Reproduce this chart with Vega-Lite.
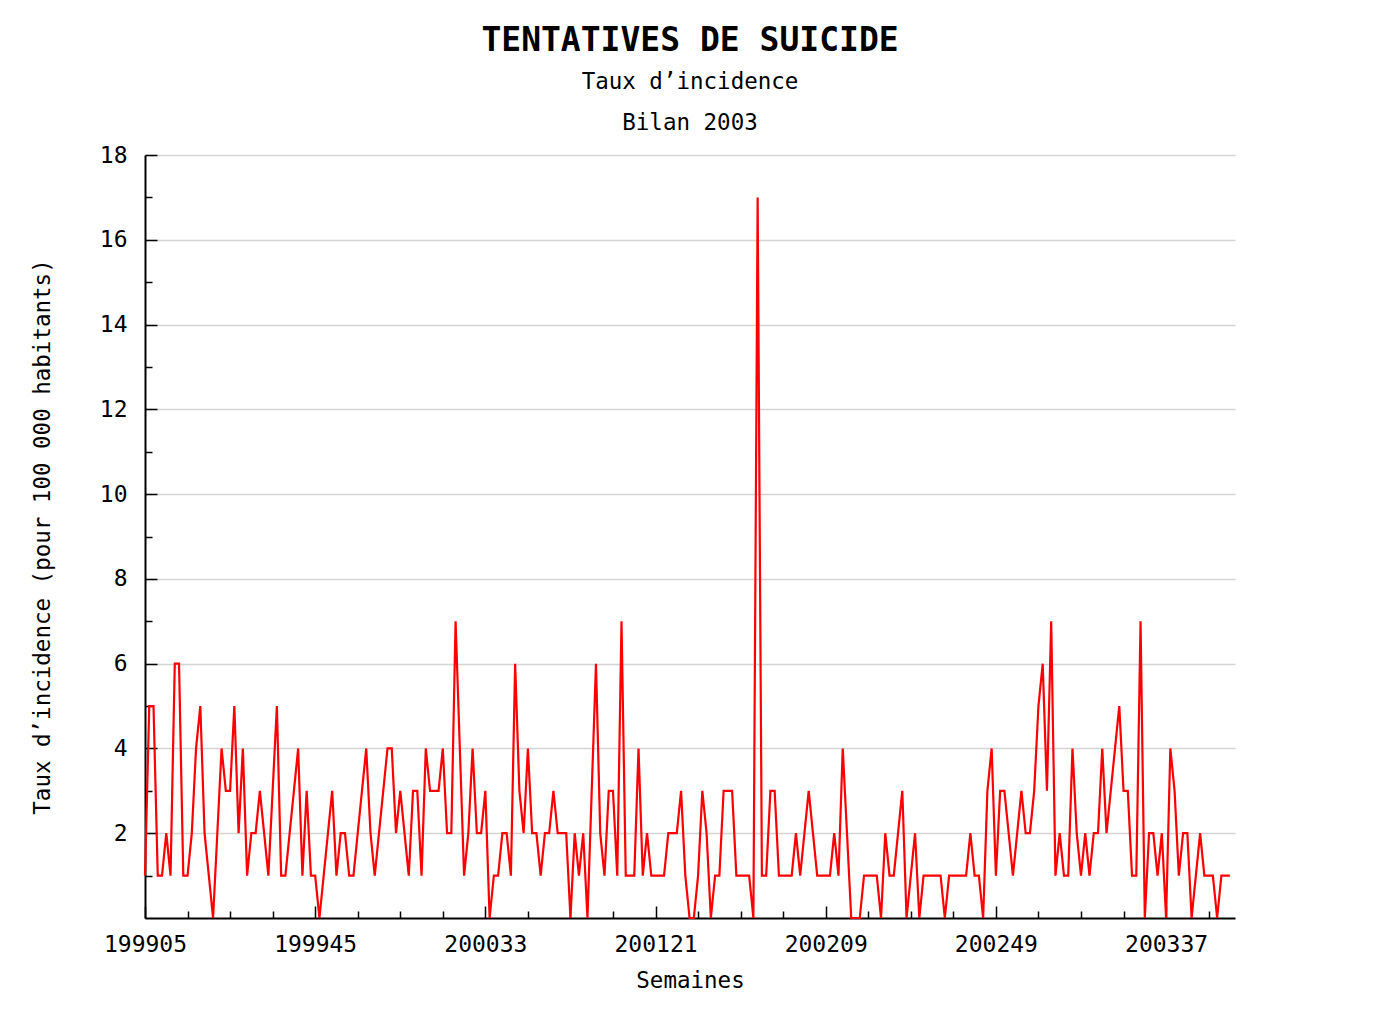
{
"$schema": "https://vega.github.io/schema/vega-lite/v6.json",
"width": 1090, "height": 763,
"autosize": "none",
"padding": {"left": 145, "top": 155, "right": 140, "bottom": 105},
"background": "white",
"title": {"text": "TENTATIVES DE SUICIDE", "subtitle": ["Taux d’incidence", "Bilan 2003"], "font": "DejaVu Sans Mono", "fontSize": 33, "fontWeight": "bold", "color": "black", "subtitleFont": "DejaVu Sans Mono", "subtitleFontSize": 22.5, "subtitleColor": "black", "subtitleLineHeight": 41, "subtitlePadding": 13, "anchor": "middle", "offset": 10},
"config": {
  "view": {"stroke": null},
  "axis": {"labelFont": "DejaVu Sans Mono", "labelFontSize": 23, "labelColor": "black", "titleFont": "DejaVu Sans Mono", "titleFontSize": 22.5, "titleFontWeight": "normal", "titleColor": "black", "domainColor": "black", "domainWidth": 2, "tickColor": "black", "tickWidth": 1.5, "labelOverlap": false}
},
"data": {"values": [
{"semaine":"199905","taux":1},{"semaine":"199906","taux":5},{"semaine":"199907","taux":5},{"semaine":"199908","taux":1},{"semaine":"199909","taux":1},{"semaine":"199910","taux":2},{"semaine":"199911","taux":1},{"semaine":"199912","taux":6},{"semaine":"199913","taux":6},{"semaine":"199914","taux":1},
{"semaine":"199915","taux":1},{"semaine":"199916","taux":2},{"semaine":"199917","taux":4},{"semaine":"199918","taux":5},{"semaine":"199919","taux":2},{"semaine":"199920","taux":1},{"semaine":"199921","taux":0},{"semaine":"199922","taux":2},{"semaine":"199923","taux":4},{"semaine":"199924","taux":3},
{"semaine":"199925","taux":3},{"semaine":"199926","taux":5},{"semaine":"199927","taux":2},{"semaine":"199928","taux":4},{"semaine":"199929","taux":1},{"semaine":"199930","taux":2},{"semaine":"199931","taux":2},{"semaine":"199932","taux":3},{"semaine":"199933","taux":2},{"semaine":"199934","taux":1},
{"semaine":"199935","taux":3},{"semaine":"199936","taux":5},{"semaine":"199937","taux":1},{"semaine":"199938","taux":1},{"semaine":"199939","taux":2},{"semaine":"199940","taux":3},{"semaine":"199941","taux":4},{"semaine":"199942","taux":1},{"semaine":"199943","taux":3},{"semaine":"199944","taux":1},
{"semaine":"199945","taux":1},{"semaine":"199946","taux":0},{"semaine":"199947","taux":1},{"semaine":"199948","taux":2},{"semaine":"199949","taux":3},{"semaine":"199950","taux":1},{"semaine":"199951","taux":2},{"semaine":"199952","taux":2},
{"semaine":"200001","taux":1},{"semaine":"200002","taux":1},{"semaine":"200003","taux":2},{"semaine":"200004","taux":3},{"semaine":"200005","taux":4},{"semaine":"200006","taux":2},{"semaine":"200007","taux":1},{"semaine":"200008","taux":2},{"semaine":"200009","taux":3},{"semaine":"200010","taux":4},
{"semaine":"200011","taux":4},{"semaine":"200012","taux":2},{"semaine":"200013","taux":3},{"semaine":"200014","taux":2},{"semaine":"200015","taux":1},{"semaine":"200016","taux":3},{"semaine":"200017","taux":3},{"semaine":"200018","taux":1},{"semaine":"200019","taux":4},{"semaine":"200020","taux":3},
{"semaine":"200021","taux":3},{"semaine":"200022","taux":3},{"semaine":"200023","taux":4},{"semaine":"200024","taux":2},{"semaine":"200025","taux":2},{"semaine":"200026","taux":7},{"semaine":"200027","taux":4},{"semaine":"200028","taux":1},{"semaine":"200029","taux":2},{"semaine":"200030","taux":4},
{"semaine":"200031","taux":2},{"semaine":"200032","taux":2},{"semaine":"200033","taux":3},{"semaine":"200034","taux":0},{"semaine":"200035","taux":1},{"semaine":"200036","taux":1},{"semaine":"200037","taux":2},{"semaine":"200038","taux":2},{"semaine":"200039","taux":1},{"semaine":"200040","taux":6},
{"semaine":"200041","taux":3},{"semaine":"200042","taux":2},{"semaine":"200043","taux":4},{"semaine":"200044","taux":2},{"semaine":"200045","taux":2},{"semaine":"200046","taux":1},{"semaine":"200047","taux":2},{"semaine":"200048","taux":2},{"semaine":"200049","taux":3},{"semaine":"200050","taux":2},
{"semaine":"200051","taux":2},{"semaine":"200052","taux":2},
{"semaine":"200101","taux":0},{"semaine":"200102","taux":2},{"semaine":"200103","taux":1},{"semaine":"200104","taux":2},{"semaine":"200105","taux":0},{"semaine":"200106","taux":3},{"semaine":"200107","taux":6},{"semaine":"200108","taux":2},{"semaine":"200109","taux":1},{"semaine":"200110","taux":3},
{"semaine":"200111","taux":3},{"semaine":"200112","taux":1},{"semaine":"200113","taux":7},{"semaine":"200114","taux":1},{"semaine":"200115","taux":1},{"semaine":"200116","taux":1},{"semaine":"200117","taux":4},{"semaine":"200118","taux":1},{"semaine":"200119","taux":2},{"semaine":"200120","taux":1},
{"semaine":"200121","taux":1},{"semaine":"200122","taux":1},{"semaine":"200123","taux":1},{"semaine":"200124","taux":2},{"semaine":"200125","taux":2},{"semaine":"200126","taux":2},{"semaine":"200127","taux":3},{"semaine":"200128","taux":1},{"semaine":"200129","taux":0},{"semaine":"200130","taux":0},
{"semaine":"200131","taux":1},{"semaine":"200132","taux":3},{"semaine":"200133","taux":2},{"semaine":"200134","taux":0},{"semaine":"200135","taux":1},{"semaine":"200136","taux":1},{"semaine":"200137","taux":3},{"semaine":"200138","taux":3},{"semaine":"200139","taux":3},{"semaine":"200140","taux":1},
{"semaine":"200141","taux":1},{"semaine":"200142","taux":1},{"semaine":"200143","taux":1},{"semaine":"200144","taux":0},{"semaine":"200145","taux":17},{"semaine":"200146","taux":1},{"semaine":"200147","taux":1},{"semaine":"200148","taux":3},{"semaine":"200149","taux":3},{"semaine":"200150","taux":1},
{"semaine":"200151","taux":1},{"semaine":"200152","taux":1},
{"semaine":"200201","taux":1},{"semaine":"200202","taux":2},{"semaine":"200203","taux":1},{"semaine":"200204","taux":2},{"semaine":"200205","taux":3},{"semaine":"200206","taux":2},{"semaine":"200207","taux":1},{"semaine":"200208","taux":1},{"semaine":"200209","taux":1},{"semaine":"200210","taux":1},
{"semaine":"200211","taux":2},{"semaine":"200212","taux":1},{"semaine":"200213","taux":4},{"semaine":"200214","taux":2},{"semaine":"200215","taux":0},{"semaine":"200216","taux":0},{"semaine":"200217","taux":0},{"semaine":"200218","taux":1},{"semaine":"200219","taux":1},{"semaine":"200220","taux":1},
{"semaine":"200221","taux":1},{"semaine":"200222","taux":0},{"semaine":"200223","taux":2},{"semaine":"200224","taux":1},{"semaine":"200225","taux":1},{"semaine":"200226","taux":2},{"semaine":"200227","taux":3},{"semaine":"200228","taux":0},{"semaine":"200229","taux":1},{"semaine":"200230","taux":2},
{"semaine":"200231","taux":0},{"semaine":"200232","taux":1},{"semaine":"200233","taux":1},{"semaine":"200234","taux":1},{"semaine":"200235","taux":1},{"semaine":"200236","taux":1},{"semaine":"200237","taux":0},{"semaine":"200238","taux":1},{"semaine":"200239","taux":1},{"semaine":"200240","taux":1},
{"semaine":"200241","taux":1},{"semaine":"200242","taux":1},{"semaine":"200243","taux":2},{"semaine":"200244","taux":1},{"semaine":"200245","taux":1},{"semaine":"200246","taux":0},{"semaine":"200247","taux":3},{"semaine":"200248","taux":4},{"semaine":"200249","taux":1},{"semaine":"200250","taux":3},
{"semaine":"200251","taux":3},{"semaine":"200252","taux":2},
{"semaine":"200301","taux":1},{"semaine":"200302","taux":2},{"semaine":"200303","taux":3},{"semaine":"200304","taux":2},{"semaine":"200305","taux":2},{"semaine":"200306","taux":3},{"semaine":"200307","taux":5},{"semaine":"200308","taux":6},{"semaine":"200309","taux":3},{"semaine":"200310","taux":7},
{"semaine":"200311","taux":1},{"semaine":"200312","taux":2},{"semaine":"200313","taux":1},{"semaine":"200314","taux":1},{"semaine":"200315","taux":4},{"semaine":"200316","taux":2},{"semaine":"200317","taux":1},{"semaine":"200318","taux":2},{"semaine":"200319","taux":1},{"semaine":"200320","taux":2},
{"semaine":"200321","taux":2},{"semaine":"200322","taux":4},{"semaine":"200323","taux":2},{"semaine":"200324","taux":3},{"semaine":"200325","taux":4},{"semaine":"200326","taux":5},{"semaine":"200327","taux":3},{"semaine":"200328","taux":3},{"semaine":"200329","taux":1},{"semaine":"200330","taux":1},
{"semaine":"200331","taux":7},{"semaine":"200332","taux":0},{"semaine":"200333","taux":2},{"semaine":"200334","taux":2},{"semaine":"200335","taux":1},{"semaine":"200336","taux":2},{"semaine":"200337","taux":0},{"semaine":"200338","taux":4},{"semaine":"200339","taux":3},{"semaine":"200340","taux":1},
{"semaine":"200341","taux":2},{"semaine":"200342","taux":2},{"semaine":"200343","taux":0},{"semaine":"200344","taux":1},{"semaine":"200345","taux":2},{"semaine":"200346","taux":1},{"semaine":"200347","taux":1},{"semaine":"200348","taux":1},{"semaine":"200349","taux":0},{"semaine":"200350","taux":1},
{"semaine":"200351","taux":1},{"semaine":"200352","taux":1}
]},
"mark": {"type": "line", "color": "#ff0000", "strokeWidth": 2.2, "interpolate": "linear"},
"encoding": {
  "x": {"field": "semaine", "type": "ordinal",
    "scale": {"type": "point", "padding": 0.6, "align": 0},
    "axis": {
      "values": ["199905","199915","199925","199935","199945","200003","200013","200023","200033","200043","200101","200111","200121","200131","200141","200151","200209","200219","200229","200239","200249","200307","200317","200327","200337","200347"],
      "labelExpr": "(datum.value == '199905' || datum.value == '199945' || datum.value == '200033' || datum.value == '200121' || datum.value == '200209' || datum.value == '200249' || datum.value == '200337') ? datum.value : ''",
      "labelAngle": 0, "labelPadding": 27,
      "tickSize": {"condition": {"test": "datum.value == '199905' || datum.value == '199945' || datum.value == '200033' || datum.value == '200121' || datum.value == '200209' || datum.value == '200249' || datum.value == '200337'", "value": -12}, "value": -7},
      "grid": false, "title": "Semaines", "titlePadding": 8
    }},
  "y": {"field": "taux", "type": "quantitative",
    "scale": {"domain": [0, 18], "nice": false},
    "axis": {
      "values": [1,2,3,4,5,6,7,8,9,10,11,12,13,14,15,16,17,18],
      "labelExpr": "datum.value % 2 == 0 ? datum.value : ''",
      "labelPadding": 30,
      "tickSize": {"condition": {"test": "datum.value % 2 == 0", "value": -12}, "value": -7},
      "grid": true, "gridColor": "#d4d4d4", "gridWidth": 1.5,
      "gridOpacity": {"condition": {"test": "datum.value % 2 == 0", "value": 1}, "value": 0},
      "title": "Taux d’incidence (pour 100 000 habitants)", "titlePadding": 45
    }}
}
}
